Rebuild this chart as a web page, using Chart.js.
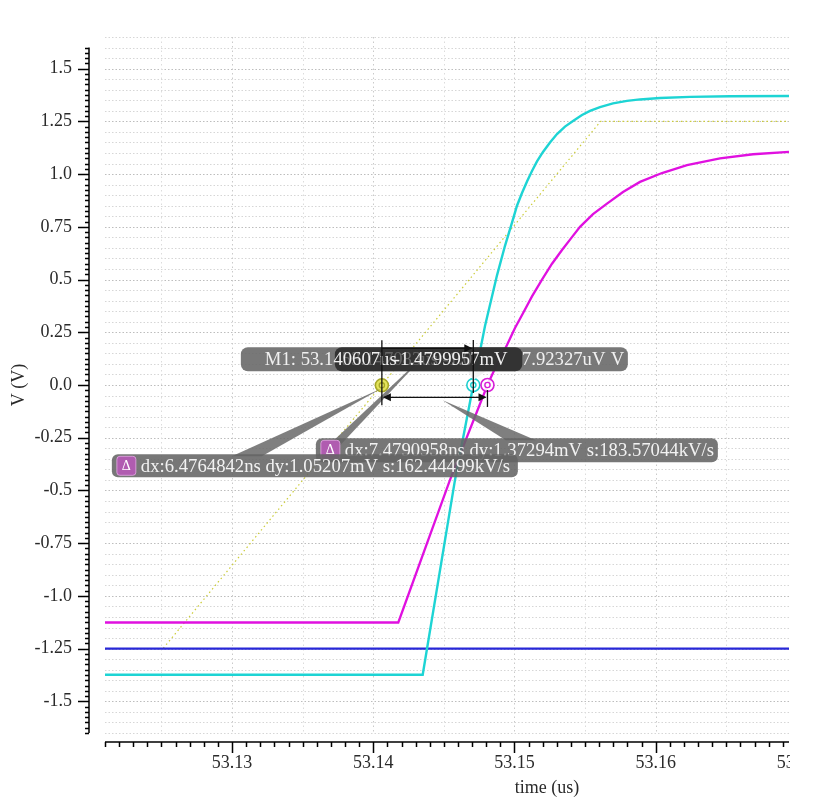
<!DOCTYPE html>
<html>
<head>
<meta charset="utf-8">
<script src="https://cdn.jsdelivr.net/npm/chart.js@4.4.1/dist/chart.umd.min.js"></script>
<style>
  html, body { margin: 0; padding: 0; background: #fff; }
  canvas { display: block; }
</style>
</head>
<body>
<canvas id="waveChart" width="830" height="806"></canvas>
<script>
// axis ranges (time in us, voltage in V)
const xMin = 53.121, xMax = 53.16944;
const yMin = -1.65, yMax = 1.65;

const xTickValues = [53.13, 53.14, 53.15, 53.16, 53.17];
const xTickLabels = ['53.13', '53.14', '53.15', '53.16', '53.17'];
const yTickValues = [1.5, 1.25, 1.0, 0.75, 0.5, 0.25, 0.0, -0.25, -0.5, -0.75, -1.0, -1.25, -1.5];
const yTickLabels = ['1.5', '1.25', '1.0', '0.75', '0.5', '0.25', '0.0', '-0.25', '-0.5', '-0.75', '-1.0', '-1.25', '-1.5'];

// traces
const cyanT = [53.121, 53.143499, 53.145786, 53.147083, 53.147911, 53.148761, 53.149327, 53.149823,
  53.150177, 53.150531, 53.150885, 53.151239, 53.151593, 53.152018, 53.152514, 53.153010,
  53.153576, 53.154143, 53.154780, 53.155347, 53.156055, 53.156976, 53.157967, 53.158888,
  53.160304, 53.162429, 53.165262, 53.16944];
const cyanV = [-1.374, -1.374, -0.45, 0.0, 0.28, 0.52, 0.66, 0.77,
  0.85, 0.91, 0.965, 1.015, 1.06, 1.105, 1.15, 1.19,
  1.225, 1.252, 1.28, 1.30, 1.318, 1.335, 1.347, 1.354,
  1.361, 1.366, 1.369, 1.370];

const magentaT = [53.121, 53.141771, 53.145432, 53.148086, 53.148761, 53.149469, 53.150035, 53.150602,
  53.151239, 53.151947, 53.152656, 53.153364, 53.154001, 53.154639, 53.155559, 53.156551,
  53.157684, 53.158888, 53.160446, 53.162217, 53.164554, 53.166891, 53.16944];
const magentaV = [-1.126, -1.126, -0.45, 0.0, 0.10, 0.19, 0.27, 0.34,
  0.42, 0.50, 0.575, 0.64, 0.695, 0.75, 0.81, 0.86,
  0.915, 0.963, 1.005, 1.042, 1.074, 1.094, 1.105];

const blueT = [53.121, 53.16944];
const blueV = [-1.25, -1.25];

const yellowT = [53.121, 53.1251, 53.1561, 53.16944];
const yellowV = [-1.25, -1.25, 1.25, 1.25];

// markers: M1 (yellow), cyan crossing, magenta crossing
const markerT = [53.140607, 53.147083, 53.148086];
const markerV = [-0.00148, -0.000428, -0.000107];
const markerColors = ['#a8a828', '#1ccfcf', '#d81ed8'];
const markerFills = ['#e4e45c', 'rgba(255,255,255,0.85)', 'rgba(255,255,255,0.85)'];

const m1Parts = ['M1: 53.140607us', '-1.4799957mV', '7.92327uV', 'V'];
const delta1Text = 'dx:6.4764842ns dy:1.05207mV s:162.44499kV/s';
const delta2Text = 'dx:7.4790958ns dy:1.37294mV s:183.57044kV/s';

const pts = (t, v) => t.map((x, i) => ({ x: x, y: v[i] }));
const FONT = '"Liberation Serif", "Times New Roman", serif';

function arrowHead(ctx, x, y, dir) {
  ctx.beginPath();
  ctx.moveTo(x, y);
  ctx.lineTo(x - dir * 8, y - 4);
  ctx.lineTo(x - dir * 8, y + 4);
  ctx.closePath();
  ctx.fill();
}

function deltaIcon(ctx, x, y) {
  ctx.fillStyle = '#b05cb0';
  ctx.beginPath();
  ctx.roundRect(x, y, 19, 19, 3);
  ctx.fill();
  ctx.strokeStyle = 'rgba(230,170,230,0.8)';
  ctx.lineWidth = 1;
  ctx.stroke();
  ctx.fillStyle = '#fff';
  ctx.font = '14px ' + FONT;
  ctx.textAlign = 'center';
  ctx.textBaseline = 'middle';
  ctx.fillText('\u0394', x + 9.5, y + 10);
}

const scopeDecor = {
  id: 'scopeDecor',
  beforeDatasetsDraw(chart) {
    const { ctx, chartArea: a, scales: { x, y } } = chart;
    ctx.save();
    ctx.lineWidth = 1;
    // horizontal grid, every 0.05 V
    for (let k = -33; k <= 33; k++) {
      const py = Math.round(y.getPixelForValue(k * 0.05)) + 0.5;
      const major = k % 5 === 0;
      ctx.strokeStyle = major ? '#bdbdbd' : '#d6d6d6';
      ctx.setLineDash([1.5, 2]);
      ctx.beginPath();
      ctx.moveTo(a.left, py);
      ctx.lineTo(a.right, py);
      ctx.stroke();
    }
    // vertical grid, every 0.005 us
    for (let k = 0; k <= 10; k++) {
      const v = 53.12 + k * 0.005;
      if (v < xMin || v > xMax) continue;
      const px = Math.round(x.getPixelForValue(v)) + 0.5;
      ctx.strokeStyle = k % 2 === 0 ? '#cacaca' : '#dcdcdc';
      ctx.setLineDash([1.5, 3]);
      ctx.beginPath();
      ctx.moveTo(px, a.top);
      ctx.lineTo(px, a.bottom);
      ctx.stroke();
    }
    ctx.restore();
  },
  afterDatasetsDraw(chart) {
    const { ctx, scales: { x, y } } = chart;
    const m = markerT.map((t, i) => ({ x: x.getPixelForValue(t), y: y.getPixelForValue(markerV[i]) }));
    const [yel, cya, mag] = m;
    const topArrowY = yel.y - 37;
    const botArrowY = yel.y + 12;
    const txtFont = '18.7px ' + FONT;
    ctx.save();

    // pointer wedges
    ctx.fillStyle = 'rgba(105,105,105,0.85)';
    const wedge = (p) => {
      ctx.beginPath();
      ctx.moveTo(p[0], p[1]);
      for (let i = 2; i < p.length; i += 2) ctx.lineTo(p[i], p[i + 1]);
      ctx.closePath();
      ctx.fill();
    };
    const l1 = { x: yel.x - 270, y: yel.y + 69, w: 406, h: 23 };
    const l2 = { x: yel.x - 66, y: yel.y + 53, w: 402, h: 24 };
    wedge([l1.x + 120, l1.y + 2, l1.x + 150, l1.y + 2, yel.x, yel.y + 3]);
    wedge([l1.x + 205, l1.y + 2, l1.x + 218, l1.y + 2, (yel.x + cya.x) / 2, topArrowY + 4]);
    wedge([l2.x + 190, l2.y + 2, l2.x + 220, l2.y + 2, (yel.x + mag.x) / 2 + 8, botArrowY + 3]);

    // delta labels
    const drawLabel = (l, text) => {
      ctx.fillStyle = 'rgba(100,100,100,0.88)';
      ctx.beginPath();
      ctx.roundRect(l.x, l.y, l.w, l.h, 6);
      ctx.fill();
      deltaIcon(ctx, l.x + 5, l.y + 2);
      ctx.fillStyle = '#f2f2f2';
      ctx.font = txtFont;
      ctx.textAlign = 'left';
      ctx.textBaseline = 'middle';
      ctx.fillText(text, l.x + 29, l.y + l.h / 2 + 1);
    };
    drawLabel(l2, delta2Text);
    drawLabel(l1, delta1Text);

    // M1 label boxes
    const mb = { x: yel.x - 141, y: yel.y - 38, w: 387, h: 24 };
    wedge([cya.x - 6, mb.y + mb.h - 1, cya.x + 14, mb.y + mb.h - 1, cya.x, cya.y - 5]);
    ctx.fillStyle = 'rgba(105,105,105,0.9)';
    ctx.beginPath();
    ctx.roundRect(mb.x, mb.y, mb.w, mb.h, 7);
    ctx.fill();
    ctx.fillStyle = 'rgba(40,40,40,0.85)';
    ctx.beginPath();
    ctx.roundRect(yel.x - 47, mb.y, cya.x - yel.x + 96, mb.h, 7);
    ctx.fill();
    ctx.font = txtFont;
    ctx.textAlign = 'left';
    ctx.textBaseline = 'middle';
    const cy = mb.y + mb.h / 2 + 1;
    // faint overlapped text of the hidden marker label
    ctx.fillStyle = 'rgba(200,200,200,0.35)';
    ctx.fillText('53.147083us -1.0', yel.x - 40, cy);
    ctx.fillStyle = '#f0f0f0';
    ctx.fillText(m1Parts[0], mb.x + 24, cy);
    ctx.fillText(m1Parts[1], yel.x + 12, cy);
    ctx.fillText(m1Parts[2], yel.x + 140, cy);
    ctx.fillText(m1Parts[3], yel.x + 229, cy);

    // marker cursor lines and dx arrows
    ctx.strokeStyle = '#111';
    ctx.fillStyle = '#111';
    ctx.lineWidth = 1.3;
    ctx.beginPath();
    ctx.moveTo(yel.x, yel.y - 45); ctx.lineTo(yel.x, yel.y + 20);
    ctx.moveTo(cya.x, cya.y - 45); ctx.lineTo(cya.x, cya.y + 8);
    ctx.moveTo(mag.x, mag.y + 5); ctx.lineTo(mag.x, mag.y + 22);
    ctx.moveTo(yel.x, topArrowY); ctx.lineTo(cya.x - 2, topArrowY);
    ctx.moveTo(yel.x + 2, botArrowY); ctx.lineTo(mag.x - 2, botArrowY);
    ctx.stroke();
    arrowHead(ctx, cya.x - 1, topArrowY, 1);
    arrowHead(ctx, yel.x + 1, botArrowY, -1);
    arrowHead(ctx, mag.x - 1, botArrowY, 1);
    ctx.restore();
  },
  afterDraw(chart) {
    const { ctx, chartArea: a, scales: { x, y } } = chart;
    ctx.save();
    ctx.strokeStyle = '#000';
    ctx.fillStyle = '#2a2a2a';
    ctx.lineWidth = 1.5;
    const axX = 89, axY = 742;
    // y axis with minor ticks every 0.025 V
    ctx.beginPath();
    ctx.moveTo(axX, y.getPixelForValue(1.6));
    ctx.lineTo(axX, a.bottom);
    for (let k = -66; k <= 64; k++) {
      const py = Math.round(y.getPixelForValue(k * 0.025)) + 0.5;
      const len = k % 10 === 0 ? 11 : 4;
      ctx.moveTo(axX, py);
      ctx.lineTo(axX - len, py);
    }
    // x axis with minor ticks every 0.001 us
    ctx.moveTo(a.left, axY);
    ctx.lineTo(a.right, axY);
    for (let k = 121; k <= 169; k++) {
      const px = Math.round(x.getPixelForValue(53 + k * 0.001)) + 0.5;
      const len = k % 10 === 0 ? 11 : 5;
      ctx.moveTo(px, axY);
      ctx.lineTo(px, axY + len);
    }
    ctx.stroke();

    ctx.font = '18px ' + FONT;
    ctx.textAlign = 'right';
    ctx.textBaseline = 'middle';
    yTickValues.forEach((v, i) => ctx.fillText(yTickLabels[i], 72, y.getPixelForValue(v)));

    ctx.save();
    ctx.beginPath();
    ctx.rect(0, 0, a.right + 1, chart.height);
    ctx.clip();
    ctx.textAlign = 'center';
    ctx.textBaseline = 'middle';
    xTickValues.forEach((v, i) => ctx.fillText(xTickLabels[i], x.getPixelForValue(v), 763));
    ctx.restore();

    ctx.textAlign = 'center';
    ctx.textBaseline = 'middle';
    ctx.fillText('time (us)', 547, 788);
    ctx.translate(19, 385);
    ctx.rotate(-Math.PI / 2);
    ctx.fillText('V (V)', 0, 0);
    ctx.restore();
  }
};

new Chart(document.getElementById('waveChart').getContext('2d'), {
  type: 'line',
  data: {
    datasets: [
      {
        label: 'markers-inner',
        type: 'scatter',
        data: pts(markerT, markerV),
        pointRadius: 2.6,
        pointBorderWidth: 1.4,
        pointBorderColor: markerColors,
        pointBackgroundColor: ['#f2f270', '#fff', '#fff'],
      },
      {
        label: 'markers',
        type: 'scatter',
        data: pts(markerT, markerV),
        pointRadius: 6.5,
        pointBorderWidth: 1.6,
        pointBorderColor: markerColors,
        pointBackgroundColor: markerFills,
      },
      {
        label: 'cyan',
        data: pts(cyanT, cyanV),
        borderColor: '#1dd4d4',
        borderWidth: 2.4,
        pointRadius: 0,
        tension: 0,
      },
      {
        label: 'magenta',
        data: pts(magentaT, magentaV),
        borderColor: '#e010e0',
        borderWidth: 2.3,
        pointRadius: 0,
        tension: 0,
      },
      {
        label: 'blue',
        data: pts(blueT, blueV),
        borderColor: '#2828d8',
        borderWidth: 2.3,
        pointRadius: 0,
      },
      {
        label: 'yellow',
        data: pts(yellowT, yellowV),
        borderColor: '#cccc38',
        borderWidth: 1.2,
        borderDash: [1.5, 3],
        pointRadius: 0,
      },
    ]
  },
  options: {
    responsive: false,
    animation: false,
    layout: { padding: { left: 105, top: 37, right: 41, bottom: 73 } },
    plugins: { legend: { display: false }, tooltip: { enabled: false } },
    scales: {
      x: { type: 'linear', min: xMin, max: xMax, display: false },
      y: { type: 'linear', min: yMin, max: yMax, display: false }
    }
  },
  plugins: [scopeDecor]
});
</script>
</body>
</html>
